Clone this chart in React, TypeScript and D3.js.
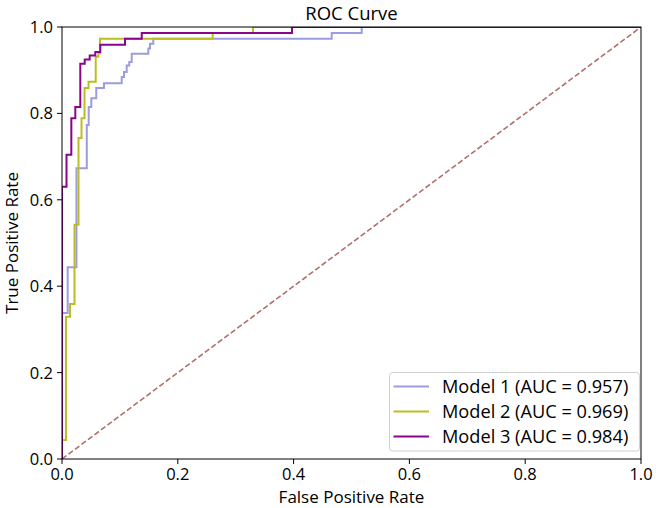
import React from 'react';
import * as d3 from 'd3';

// ---- data ----
const model1Fpr = [0, 0, 0.0098, 0.025, 0.0428, 0.0461, 0.0506, 0.0592, 0.0725, 0.1031, 0.1071, 0.1117, 0.1162, 0.1204, 0.1491, 0.152, 0.1577, 0.4658, 0.5176, 1];
const model1Tpr = [0, 0.338, 0.444, 0.673, 0.773, 0.815, 0.835, 0.859, 0.87, 0.884, 0.896, 0.911, 0.919, 0.938, 0.95, 0.961, 0.973, 0.986, 1, 1];
const model2Fpr = [0, 0, 0.0069, 0.0138, 0.0216, 0.0285, 0.0337, 0.0389, 0.0458, 0.0582, 0.0627, 0.0656, 0.2603, 0.3299, 1];
const model2Tpr = [0, 0.044, 0.329, 0.359, 0.542, 0.743, 0.789, 0.859, 0.873, 0.931, 0.939, 0.973, 0.986, 1, 1];
const model3Fpr = [0, 0, 0.0078, 0.0161, 0.023, 0.0316, 0.0392, 0.0478, 0.0575, 0.0661, 0.1088, 0.1377, 0.3972, 1];
const model3Tpr = [0, 0.63, 0.704, 0.789, 0.815, 0.915, 0.925, 0.934, 0.942, 0.959, 0.973, 0.986, 1, 1];
const modelNames = ['Model 1', 'Model 2', 'Model 3'];
const modelAuc = ['0.957', '0.969', '0.984'];
const modelColors = ['#9c9ce0', '#bcbd22', '#8b048b'];
const tickValues = [0, 0.2, 0.4, 0.6, 0.8, 1.0];
const tickLabels = ['0.0', '0.2', '0.4', '0.6', '0.8', '1.0'];

const W = 656;
const H = 508;
const PL = 62, PR = 641, PT = 27, PB = 459;
const FONT = 'Open Sans';

export default function App() {
  const x = d3.scaleLinear().domain([0, 1]).range([PL, PR]);
  const y = d3.scaleLinear().domain([0, 1]).range([PB, PT]);
  const line = d3
    .line<[number, number]>()
    .x((d) => x(d[0]))
    .y((d) => y(d[1]))
    .curve(d3.curveStepAfter);
  const series = [
    model1Fpr.map((f, i) => [f, model1Tpr[i]] as [number, number]),
    model2Fpr.map((f, i) => [f, model2Tpr[i]] as [number, number]),
    model3Fpr.map((f, i) => [f, model3Tpr[i]] as [number, number]),
  ];
  const diag = d3.line<[number, number]>().x((d) => x(d[0])).y((d) => y(d[1]))([[0, 0], [1, 1]]) || '';

  const legX = 389.5, legY = 372.5, legW = 250, legH = 78.5;
  const rowY = [386.5, 411.5, 436.5];

  return (
    <svg width={W} height={H} style={{ position: 'absolute', left: 0, top: 0, background: '#fff' }} fontFamily={FONT}>
      <defs>
        <clipPath id="plotclip">
          <rect x={PL} y={PT} width={PR - PL} height={PB - PT} />
        </clipPath>
      </defs>
      <rect x={0} y={0} width={W} height={H} fill="#fff" />
      <g clipPath="url(#plotclip)">
        <path d={diag} stroke="#b0706c" strokeWidth={1.6} strokeDasharray="5.5,2.6" fill="none" />
        {series.map((s, i) => (
          <path key={i} d={line(s) || ''} stroke={modelColors[i]} strokeWidth={2} fill="none" strokeLinejoin="miter" />
        ))}
      </g>
      {/* spines */}
      <rect x={PL} y={PT} width={PR - PL} height={PB - PT} fill="none" stroke="#000" strokeWidth={1} />
      {/* x ticks */}
      {tickValues.map((t, i) => (
        <g key={'x' + i}>
          <line x1={x(t)} x2={x(t)} y1={PB} y2={PB + 5} stroke="#000" strokeWidth={1} />
          <text x={x(t)} y={PB + 21} textAnchor="middle" fontSize={16.5} fill="#000">{tickLabels[i]}</text>
        </g>
      ))}
      {tickValues.map((t, i) => (
        <g key={'y' + i}>
          <line x1={PL - 5} x2={PL} y1={y(t)} y2={y(t)} stroke="#000" strokeWidth={1} />
          <text x={PL - 9} y={y(t) + 6} textAnchor="end" fontSize={16.5} fill="#000">{tickLabels[i]}</text>
        </g>
      ))}
      <text x={(PL + PR) / 2} y={503} textAnchor="middle" fontSize={17} fill="#000">False Positive Rate</text>
      <text transform={`translate(18,${(PT + PB) / 2}) rotate(-90)`} textAnchor="middle" fontSize={17} fill="#000">True Positive Rate</text>
      <text x={(PL + PR) / 2} y={20} textAnchor="middle" fontSize={18.5} fill="#000">ROC Curve</text>
      {/* legend */}
      <rect x={legX} y={legY} width={legW} height={legH} rx={3} fill="#fff" fillOpacity={0.8} stroke="#d0d0d0" strokeWidth={1} />
      {modelNames.map((n, i) => (
        <g key={'l' + i}>
          <line x1={393.5} x2={429} y1={rowY[i]} y2={rowY[i]} stroke={modelColors[i]} strokeWidth={2} />
          <text x={442} y={rowY[i] + 6.5} fontSize={18.2} fill="#000">{`${n} (AUC = ${modelAuc[i]})`}</text>
        </g>
      ))}
    </svg>
  );
}
